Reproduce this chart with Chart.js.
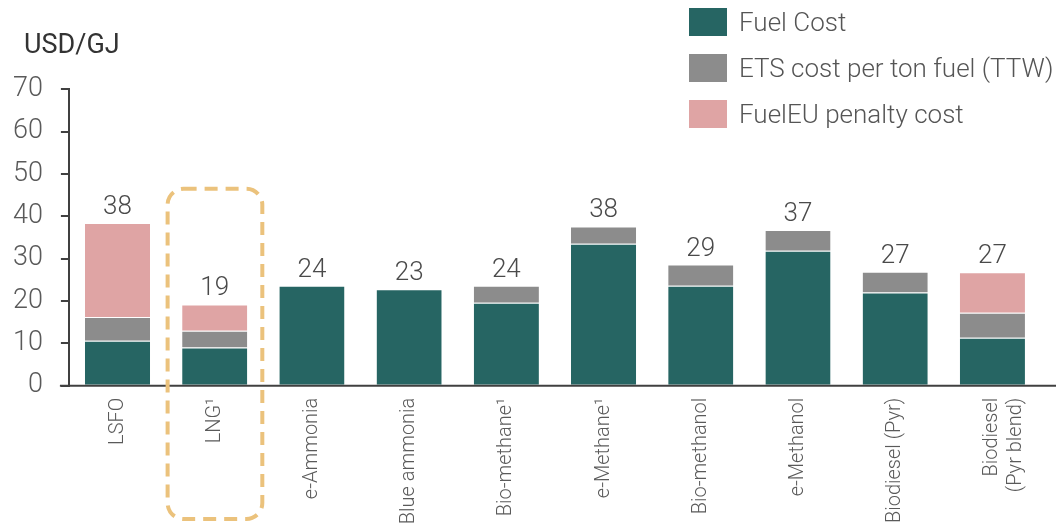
<!DOCTYPE html>
<html>
<head>
<meta charset="utf-8">
<script src="https://cdn.jsdelivr.net/npm/chart.js@4.4.1/dist/chart.umd.min.js"></script>
<style>
  html, body { margin: 0; padding: 0; background: #ffffff; }
  #wrap { position: relative; width: 1056px; height: 525px; }
</style>
</head>
<body>
<div id="wrap"><canvas id="c" width="1056" height="525"></canvas></div>
<script>
// ---- data ----
const categories = ['LSFO', 'LNG¹', 'e-Ammonia', 'Blue ammonia', 'Bio-methane¹', 'e-Methane¹', 'Bio-methanol', 'e-Methanol', 'Biodiesel (Pyr)', ['Biodiesel', '(Pyr blend)']];
const fuelCost    = [10.6, 9.0, 23.6, 22.8, 19.6, 33.5, 23.6, 31.9, 22.0, 11.3];
const etsCost     = [5.6, 4.0, 0, 0, 4.0, 4.1, 5.0, 4.9, 4.9, 5.9];
const penaltyCost = [22.2, 6.2, 0, 0, 0, 0, 0, 0, 0, 9.6];
const seriesNames = ['Fuel Cost', 'ETS cost per ton fuel (TTW)', 'FuelEU penalty cost'];
const yTicks = [0, 10, 20, 30, 40, 50, 60, 70];
const unitLabel = 'USD/GJ';
const highlightIndex = 1;      // LNG
const highlightTopValue = 46.5;

const colors = ['#266563', '#8c8c8c', '#dfa4a4'];
const FONT = 'Roboto, "Liberation Sans", sans-serif';

const segBorder = ctx => (ctx.raw > 0 ? { top: 1, left: 0, right: 0, bottom: 0 } : 0);

const overlay = {
  id: 'overlay',
  afterDraw(chart) {
    const { ctx, scales } = chart;
    const x = scales.x, y = scales.y;
    ctx.save();
    // x axis line extended
    const y0 = y.getPixelForValue(0);
    ctx.strokeStyle = '#404040';
    ctx.lineWidth = 2;
    ctx.beginPath();
    ctx.moveTo(x.left - 9, y0);
    ctx.lineTo(chart.width, y0);
    ctx.stroke();

    // totals above bars
    ctx.fillStyle = '#4a4a4a';
    ctx.font = '300 26px ' + FONT;
    ctx.textAlign = 'center';
    ctx.textBaseline = 'alphabetic';
    categories.forEach((c, i) => {
      const total = fuelCost[i] + etsCost[i] + penaltyCost[i];
      const px = x.getPixelForValue(i);
      const py = y.getPixelForValue(total);
      ctx.fillText(String(Math.round(total)), px, py - 9);
    });

    // unit label
    ctx.fillStyle = '#333333';
    ctx.font = '400 27px ' + FONT;
    ctx.textAlign = 'left';
    ctx.textBaseline = 'middle';
    ctx.fillText(unitLabel, 24, 46);

    // legend
    ctx.font = '300 26px ' + FONT;
    chart.data.datasets.forEach((ds, i) => {
      const by = 8 + i * 46;
      ctx.fillStyle = ds.backgroundColor;
      ctx.fillRect(689, by, 38, 28);
      ctx.fillStyle = '#555555';
      ctx.fillText(ds.label, 739, by + 16);
    });

    // dashed highlight box around LNG
    const step = x.getPixelForValue(1) - x.getPixelForValue(0);
    const cx = x.getPixelForValue(highlightIndex);
    const left = cx - step / 2 + 1.5, right = cx + step / 2 - 1;
    const top = y.getPixelForValue(highlightTopValue);
    const bottom = chart.height - 6;
    ctx.strokeStyle = '#ebc27c';
    ctx.lineWidth = 4;
    ctx.setLineDash([13, 8]);
    ctx.beginPath();
    ctx.roundRect(left, top, right - left, bottom - top, 16);
    ctx.stroke();
    ctx.restore();
  }
};

new Chart(document.getElementById('c'), {
  type: 'bar',
  data: {
    labels: categories,
    datasets: [
      { label: seriesNames[0], data: fuelCost, backgroundColor: colors[0] },
      { label: seriesNames[1], data: etsCost, backgroundColor: colors[1] },
      { label: seriesNames[2], data: penaltyCost, backgroundColor: colors[2] }
    ].map(d => Object.assign(d, { borderColor: 'rgba(255,255,255,0.55)', borderWidth: segBorder, borderSkipped: false }))
  },
  options: {
    responsive: false,
    animation: false,
    devicePixelRatio: 1,
    layout: { padding: { top: 89.3, right: 15, left: 0, bottom: 0 } },
    plugins: { legend: { display: false }, tooltip: { enabled: false }, title: { display: false } },
    datasets: { bar: { categoryPercentage: 1, barPercentage: 0.67 } },
    scales: {
      x: {
        stacked: true,
        grid: { display: false, drawTicks: false },
        border: { display: false },
        ticks: {
          color: '#5a5a5a',
          font: { family: FONT, size: 20, weight: '300' },
          minRotation: 90, maxRotation: 90,
          padding: 12,
          autoSkip: false
        },
        afterFit: s => { s.height = 139.3; }
      },
      y: {
        stacked: true,
        min: 0, max: 70,
        afterBuildTicks: s => { s.ticks = yTicks.map(v => ({ value: v })); },
        grid: { drawOnChartArea: false, drawTicks: true, tickLength: 8, color: '#404040', lineWidth: 2 },
        border: { display: true, color: '#404040', width: 2 },
        ticks: {
          color: '#5a5a5a',
          font: { family: FONT, size: 27, weight: '300' },
          padding: 18
        },
        afterFit: s => { s.width = 68.9; }
      }
    }
  },
  plugins: [overlay]
});
</script>
</body>
</html>
